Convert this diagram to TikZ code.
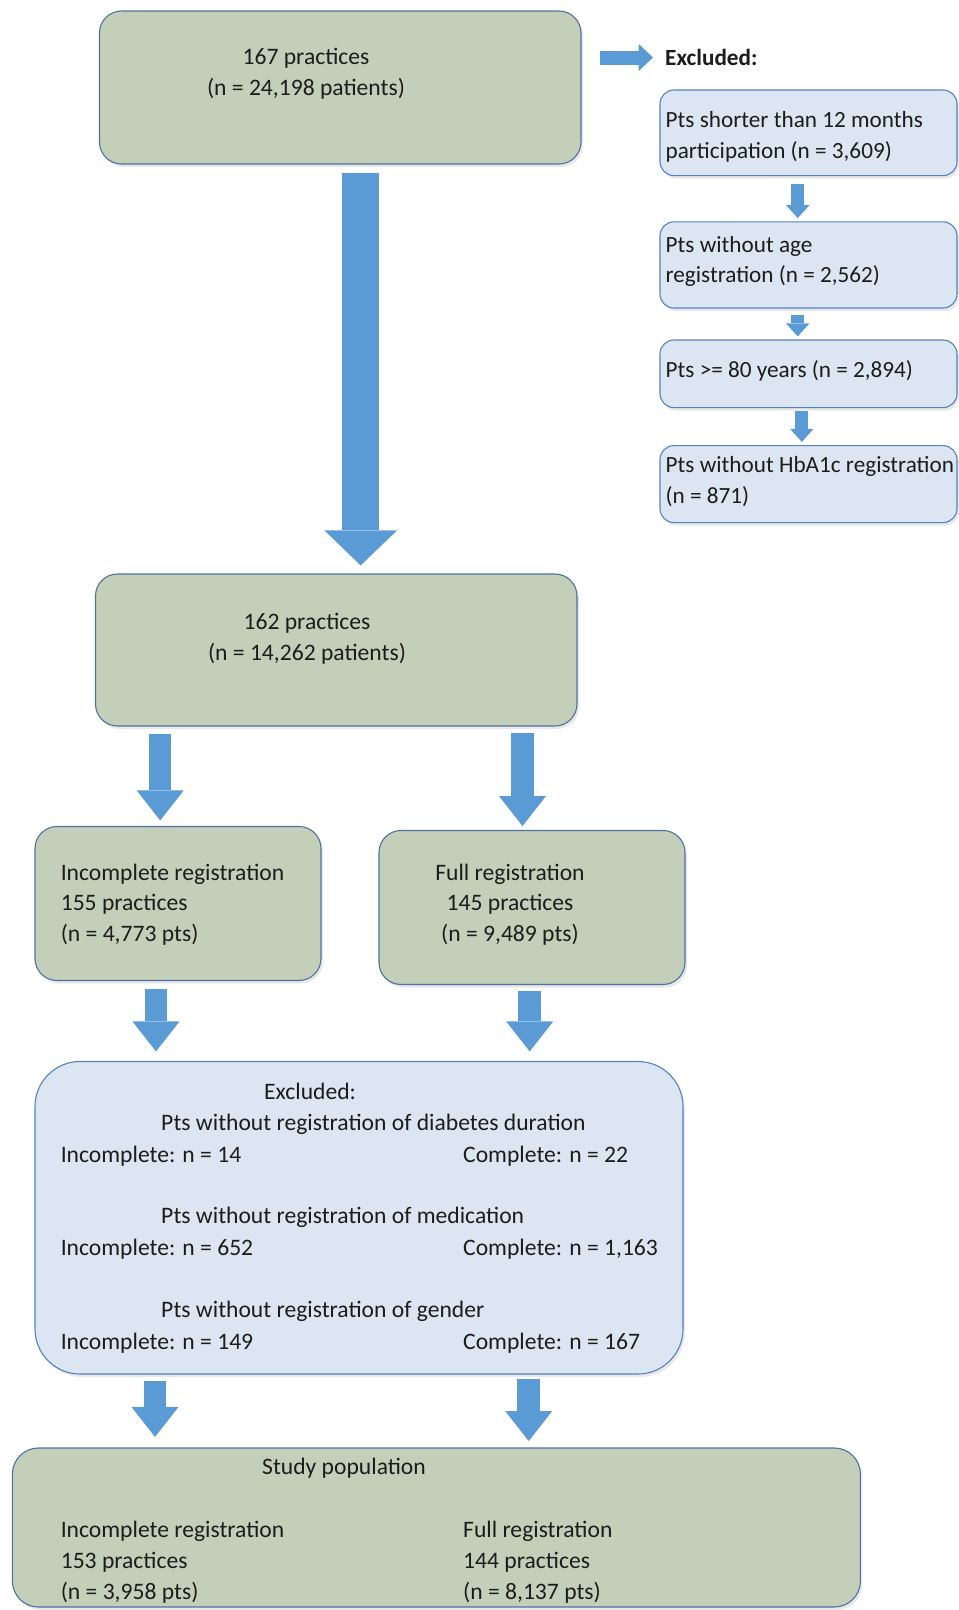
\documentclass[tikz,border=0pt]{standalone}
\usepackage{fontspec}
\setmainfont{Carlito}
\usetikzlibrary{arrows.meta,shadows}
\definecolor{boxgreen}{RGB}{196,207,186}
\definecolor{greenedge}{RGB}{79,113,163}
\definecolor{boxblue}{RGB}{219,230,242}
\definecolor{blueedge}{RGB}{84,130,190}
\definecolor{arrowblue}{RGB}{91,155,213}
\definecolor{txtcol}{RGB}{28,28,28}
\tikzset{
	boxshadow/.style={drop shadow={shadow xshift=2pt, shadow yshift=-3pt, opacity=0.18}},
	greenbox/.style={draw=greenedge, fill=boxgreen, line width=1.1pt, rounded corners=22pt, inner sep=0pt, boxshadow},
	bluebox/.style={draw=blueedge, fill=boxblue, line width=1.1pt, rounded corners=14pt, inner sep=0pt, boxshadow},
	txt/.style={inner sep=0pt, text=txtcol, font=\fontsize{23.6}{30.8}\selectfont},
	sidetxt/.style={txt, align=left, anchor=west, font=\fontsize{23.2}{30.8}\selectfont},
	fatarrow/.style={draw=arrowblue, line width=22.5pt, -{Triangle[width=47pt,length=30pt,line width=0pt]}},
	bigarrow/.style={draw=arrowblue, line width=37pt, -{Triangle[width=72.5pt,length=35pt,line width=0pt]}},
	smallarrow/.style={draw=arrowblue, line width=12.7pt, -{Triangle[width=23.3pt,length=13pt,line width=0pt]}},
}
\begin{document}
\begin{tikzpicture}[x=1pt,y=1pt,yscale=-1,xscale=1]
	\useasboundingbox (0,0) rectangle (959,1610);
	%Shape: main boxes
	\node [greenbox, minimum width=481.5pt, minimum height=153pt] (top) at (340.25,87.5) {};
	\node [greenbox, minimum width=481.5pt, minimum height=152pt] (mid) at (336.25,650) {};
	\node [greenbox, minimum width=286pt, minimum height=154pt] (inc) at (178,903.5) {};
	\node [greenbox, minimum width=306pt, minimum height=154pt] (full) at (532,907.5) {};
	\node [bluebox, rounded corners=45pt, minimum width=648pt, minimum height=312.5pt] (excl) at (359,1217.75) {};
	\node [greenbox, rounded corners=26pt, minimum width=848pt, minimum height=159pt] (study) at (436.4,1527.5) {};
	%Shape: exclusion boxes
	\node [bluebox, minimum width=297pt, minimum height=85.6pt] (exa) at (808.5,132.8) {};
	\node [bluebox, minimum width=297pt, minimum height=86.2pt] (exb) at (808.5,264.9) {};
	\node [bluebox, minimum width=297pt, minimum height=67.6pt] (exc) at (808.5,373.8) {};
	\node [bluebox, minimum width=297pt, minimum height=77pt] (exd) at (808.5,484.1) {};
	%Texts
	\node [txt, align=center] (t-top) at (306,73.8) {167 practices\\(n = 24,198 patients)};
	\node [txt, align=center] (t-mid) at (307,638.5) {162 practices\\(n = 14,262 patients)};
	\node [txt, align=left, anchor=west] (t-inc) at (60.6,904.6) {Incomplete registration\\155 practices\\(n = 4,773 pts)};
	\node [txt, align=center] (t-full) at (510,904.6) {Full registration\\145 practices\\(n = 9,489 pts)};
	\node [txt, anchor=west] (t-excl) at (264,1091) {Excluded:};
	\node [txt, anchor=west] (t-dur) at (161,1124) {Pts without registration of diabetes duration};
	\node [txt, anchor=west] (t-dur-i) at (60.6,1156) {Incomplete: n = 14};
	\node [txt, anchor=west] (t-dur-c) at (463,1156) {Complete: n = 22};
	\node [txt, anchor=west] (t-med) at (161,1217.7) {Pts without registration of medication};
	\node [txt, anchor=west] (t-med-i) at (60.6,1249.6) {Incomplete: n = 652};
	\node [txt, anchor=west] (t-med-c) at (463,1249.6) {Complete: n = 1,163};
	\node [txt, anchor=west] (t-gen) at (161,1311) {Pts without registration of gender};
	\node [txt, anchor=west] (t-gen-i) at (60.6,1343) {Incomplete: n = 149};
	\node [txt, anchor=west] (t-gen-c) at (463,1343) {Complete: n = 167};
	\node [txt, anchor=west] (t-study) at (262,1468) {Study population};
	\node [txt, align=left, anchor=west] (t-study-i) at (60.6,1562) {Incomplete registration\\153 practices\\(n = 3,958 pts)};
	\node [txt, align=left, anchor=west] (t-study-f) at (463,1562) {Full registration\\144 practices\\(n = 8,137 pts)};
	\node [sidetxt, font=\fontsize{23.2}{30.8}\selectfont\bfseries] (exlabel) at (665,57.5) {Excluded:};
	\node [sidetxt] (t-exa) at (665.4,137) {Pts shorter than 12 months\\participation (n = 3,609)};
	\node [sidetxt] (t-exb) at (665.4,261.5) {Pts without age\\registration (n = 2,562)};
	\node [sidetxt] (t-exc) at (665.4,370.8) {Pts >= 80 years (n = 2,894)};
	\node [sidetxt] (t-exd) at (665.4,481.5) {Pts without HbA1c registration\\(n = 871)};
	%Arrows
	\draw [bigarrow] ([xshift=20.45pt,yshift=8.5pt]top.south) -- ([xshift=24.45pt,yshift=-8pt]mid.north);
	\draw [smallarrow, line width=14pt, -{Triangle[width=27pt,length=14.3pt,line width=0pt]}] ([xshift=18.6pt]top.east |- exlabel.west) -- ([xshift=-12pt]exlabel.west);
	\draw [smallarrow] ([xshift=-10.8pt,yshift=8.2pt]exa.south) -- ([xshift=-10.8pt,yshift=-3.1pt]exb.north);
	\draw [smallarrow] ([xshift=-10.8pt,yshift=6pt]exb.south) -- ([xshift=-10.8pt,yshift=-3pt]exc.north);
	\draw [smallarrow] ([xshift=-6.7pt,yshift=3.1pt]exc.south) -- ([xshift=-6.7pt,yshift=-3.1pt]exd.north);
	\draw [fatarrow] ([xshift=-176.05pt,yshift=7pt]mid.south) -- ([xshift=-17.8pt,yshift=-5.5pt]inc.north);
	\draw [fatarrow] ([xshift=186.25pt,yshift=6pt]mid.south) -- ([xshift=-9.5pt,yshift=-3.9pt]full.north);
	\draw [fatarrow] ([xshift=-22pt,yshift=7.5pt]inc.south) -- ([xshift=-203pt,yshift=-9.5pt]excl.north);
	\draw [fatarrow] ([xshift=-2.3pt,yshift=5.5pt]full.south) -- ([xshift=170.7pt,yshift=-9.5pt]excl.north);
	\draw [fatarrow] ([xshift=-204pt,yshift=6pt]excl.south) -- ([xshift=-281.4pt,yshift=-10.5pt]study.north);
	\draw [fatarrow] ([xshift=169.7pt,yshift=4pt]excl.south) -- ([xshift=92.3pt,yshift=-6.4pt]study.north);
\end{tikzpicture}
\end{document}
